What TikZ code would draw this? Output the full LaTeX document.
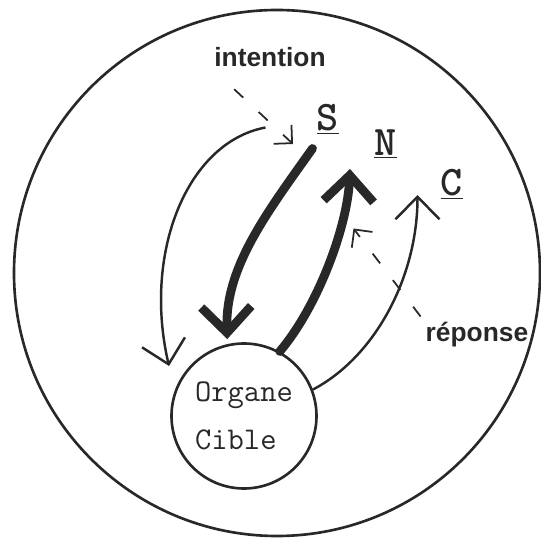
\documentclass[tikz,border=0pt]{standalone}
\usepackage{fontspec}
\usepackage{tikz}
\usetikzlibrary{arrows.meta, positioning}
\setmainfont{Liberation Sans}
\definecolor{mydark}{RGB}{40,40,40}
\newcommand{\ulbl}[1]{\underline{#1}}
\tikzset{
  cellcirc/.style={circle, draw=mydark, line width=1.5pt,
    minimum size=10.52cm, inner sep=0pt},
  organ/.style={circle, draw=mydark, line width=1.5pt,
    minimum size=2.9cm, inner sep=0pt, align=left,
    font=\ttfamily\fontsize{18}{27}\selectfont},
  wordlbl/.style={font=\bfseries\fontsize{15}{18}\selectfont, inner sep=1pt},
  letterlbl/.style={font=\ttfamily\bfseries\fontsize{24}{28}\selectfont, inner sep=1pt},
  thinarrow/.style={-{Straight Barb[length=0.45cm, width=0.88cm]}, line width=1.4pt, color=mydark},
  thickarrow/.style={-{Straight Barb[length=0.52cm, width=1.0cm]}, line width=5pt,
    line cap=round, color=mydark},
  dashptr/.style={-{Straight Barb[length=0.26cm, width=0.52cm]}, line width=1pt,
    color=mydark, dash pattern=on 7pt off 12pt}
}

\begin{document}
\begin{tikzpicture}[every node/.style={text=mydark}]
  \useasboundingbox (0,0) rectangle (10.82,10.84);
  \node[cellcirc] (cell) at (5.54, 5.38) {};
  \node[organ] (org) at (4.88, 2.52) {Organe\\Cible};

  \node[wordlbl] (intention) at (5.40, 9.70) {intention};
  \node[wordlbl] (reponse) at (9.54, 4.14) {réponse};
  \node[letterlbl] (S) at (6.56, 8.46) {\ulbl{S}};
  \node[letterlbl] (N) at (7.71, 7.96) {\ulbl{N}};
  \node[letterlbl] (C) at (9.04, 7.16) {\ulbl{C}};

  \coordinate (introTip) at (5.86, 7.96);
  \coordinate (ctrlTop) at (5.31, 8.29);
  \coordinate (leftTip) at (3.38, 3.52);
  \coordinate (sFoot) at (6.25, 7.87);
  \coordinate (nTip) at (7.00, 7.46);
  \coordinate (cTip) at (8.35, 6.94);
  \coordinate (repTip) at (7.07, 6.27);

  % intention and the two loops
  \draw[dashptr, shorten <=0.6cm] (intention.south west) -- (introTip);
  \draw[thinarrow] (ctrlTop) .. controls (3.75, 8.0) and (2.85, 5.8) .. (leftTip);
  \draw[thickarrow, shorten >=0.1cm] (sFoot) .. controls (5.35, 6.6) and (4.5, 5.5) .. (org.103);
  \draw[thickarrow] (org.61) .. controls (6.35, 4.7) and (6.95, 6.3) .. (nTip);
  \draw[thinarrow] (org.21) .. controls (7.5, 3.7) and (8.35, 5.3) .. (cTip);
  \draw[dashptr, shorten <=0.1cm] (reponse.north west) -- (repTip);
\end{tikzpicture}
\end{document}
